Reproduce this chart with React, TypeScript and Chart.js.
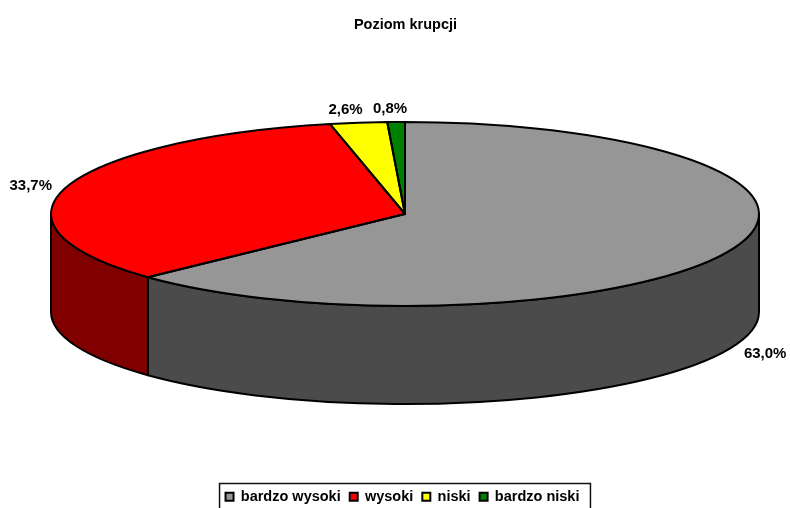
import React, { useEffect, useRef } from "react";
import { Chart, registerables } from "chart.js";

Chart.register(...registerables);

const categories = ["bardzo wysoki", "wysoki", "niski", "bardzo niski"];
const shares = [63.0, 33.7, 2.6, 0.8];
const valueLabels = ["63,0%", "33,7%", "2,6%", "0,8%"];
const topColors = ["#969696", "#ff0000", "#ffff00", "#008000"];
const sideColors = ["#4b4b4b", "#800000", "#808000", "#004000"];

const FONT = '"Liberation Sans", Arial, sans-serif';
const CX = 405, CY = 214, RX = 354, RY = 92, DEPTH = 98;
const LEGEND_SHIFT = 3;
const labelOffsets = [[35, 103], [-36, -1], [-13, -13], [-6, -13]];

const pie3d = {
  id: "pie3d",
  beforeDraw(chart: any) {
    chart.legend.left -= LEGEND_SHIFT;
    chart.legend.right -= LEGEND_SHIFT;
  },
  beforeDatasetsDraw(chart: any) {
    const ctx = chart.ctx;
    const arcs = chart.getDatasetMeta(0).data;
    ctx.save();
    ctx.lineWidth = 2;
    ctx.strokeStyle = "#000";
    ctx.lineJoin = "round";
    arcs.forEach((arc: any, i: number) => {
      // Part of the slice that faces the viewer: canvas angles 0..PI.
      const ranges = [0, 2 * Math.PI].map((turn) => [
        Math.max(arc.startAngle, turn),
        Math.min(arc.endAngle, turn + Math.PI),
      ]);
      ranges.forEach(([a, b]) => {
        if (b <= a) return;
        ctx.beginPath();
        ctx.ellipse(CX, CY, RX, RY, 0, a, b);
        ctx.ellipse(CX, CY + DEPTH, RX, RY, 0, b, a, true);
        ctx.closePath();
        ctx.fillStyle = sideColors[i];
        ctx.fill();
        ctx.stroke();
      });
    });
    ctx.restore();
    // The library's arcs are flattened into the top face of the pie.
    const first = arcs[0];
    ctx.save();
    ctx.translate(CX, CY);
    ctx.scale(RX / first.outerRadius, RY / first.outerRadius);
    ctx.translate(-first.x, -first.y);
  },
  afterDatasetsDraw(chart: any) {
    const ctx = chart.ctx;
    ctx.restore();
    const arcs = chart.getDatasetMeta(0).data;
    ctx.save();
    ctx.lineWidth = 2;
    ctx.strokeStyle = "#000";
    ctx.lineJoin = "round";
    arcs.forEach((arc: any) => {
      ctx.beginPath();
      ctx.moveTo(CX, CY);
      ctx.ellipse(CX, CY, RX, RY, 0, arc.startAngle, arc.endAngle);
      ctx.closePath();
      ctx.stroke();
    });
    ctx.font = `bold 15px ${FONT}`;
    ctx.fillStyle = "#000";
    ctx.textAlign = "center";
    ctx.textBaseline = "middle";
    arcs.forEach((arc: any, i: number) => {
      const mid = (arc.startAngle + arc.endAngle) / 2;
      const x = CX + RX * Math.cos(mid) + labelOffsets[i][0];
      const y = CY + RY * Math.sin(mid) + labelOffsets[i][1];
      ctx.fillText(valueLabels[i], x, y);
    });
    ctx.restore();
  },
  afterDraw(chart: any) {
    const ctx = chart.ctx;
    const boxes = chart.legend.legendHitBoxes;
    const left = boxes[0].left - LEGEND_SHIFT - 6;
    const last = boxes[boxes.length - 1];
    const right = last.left + last.width - LEGEND_SHIFT + 11;
    ctx.save();
    ctx.lineWidth = 1.5;
    ctx.strokeStyle = "#111";
    ctx.strokeRect(left, 483.5, right - left, 40);
    ctx.restore();
  },
};

export default function App() {
  const ref = useRef<HTMLCanvasElement>(null);
  useEffect(() => {
    const chart = new Chart(ref.current!, {
      type: "pie",
      data: {
        labels: categories,
        datasets: [{ data: shares, backgroundColor: topColors, borderWidth: 0 }],
      },
      plugins: [pie3d],
      options: {
        animation: false,
        responsive: false,
        layout: { padding: { bottom: -6, left: 21 } },
        plugins: {
          tooltip: { enabled: false },
          title: {
            display: true,
            text: "Poziom krupcji",
            color: "#000",
            font: { family: FONT, size: 14.5, weight: "bold" },
            padding: { top: 16, bottom: 10 },
          },
          legend: {
            position: "bottom",
            labels: {
              color: "#000",
              font: { family: FONT, size: 14.5, weight: "bold" },
              boxWidth: 8,
              boxHeight: 8,
              padding: 9,
              generateLabels: (c: any) =>
                categories.map((text, i) => ({
                  text,
                  fillStyle: topColors[i],
                  strokeStyle: "#000",
                  lineWidth: 2,
                  index: i,
                  hidden: !c.getDataVisibility(i),
                })),
            },
          },
        },
      },
    } as any);
    return () => chart.destroy();
  }, []);
  return (
    <div style={{ position: "absolute", left: 0, top: 0 }}>
      <canvas ref={ref} width={790} height={508} style={{ display: "block" }} />
    </div>
  );
}
